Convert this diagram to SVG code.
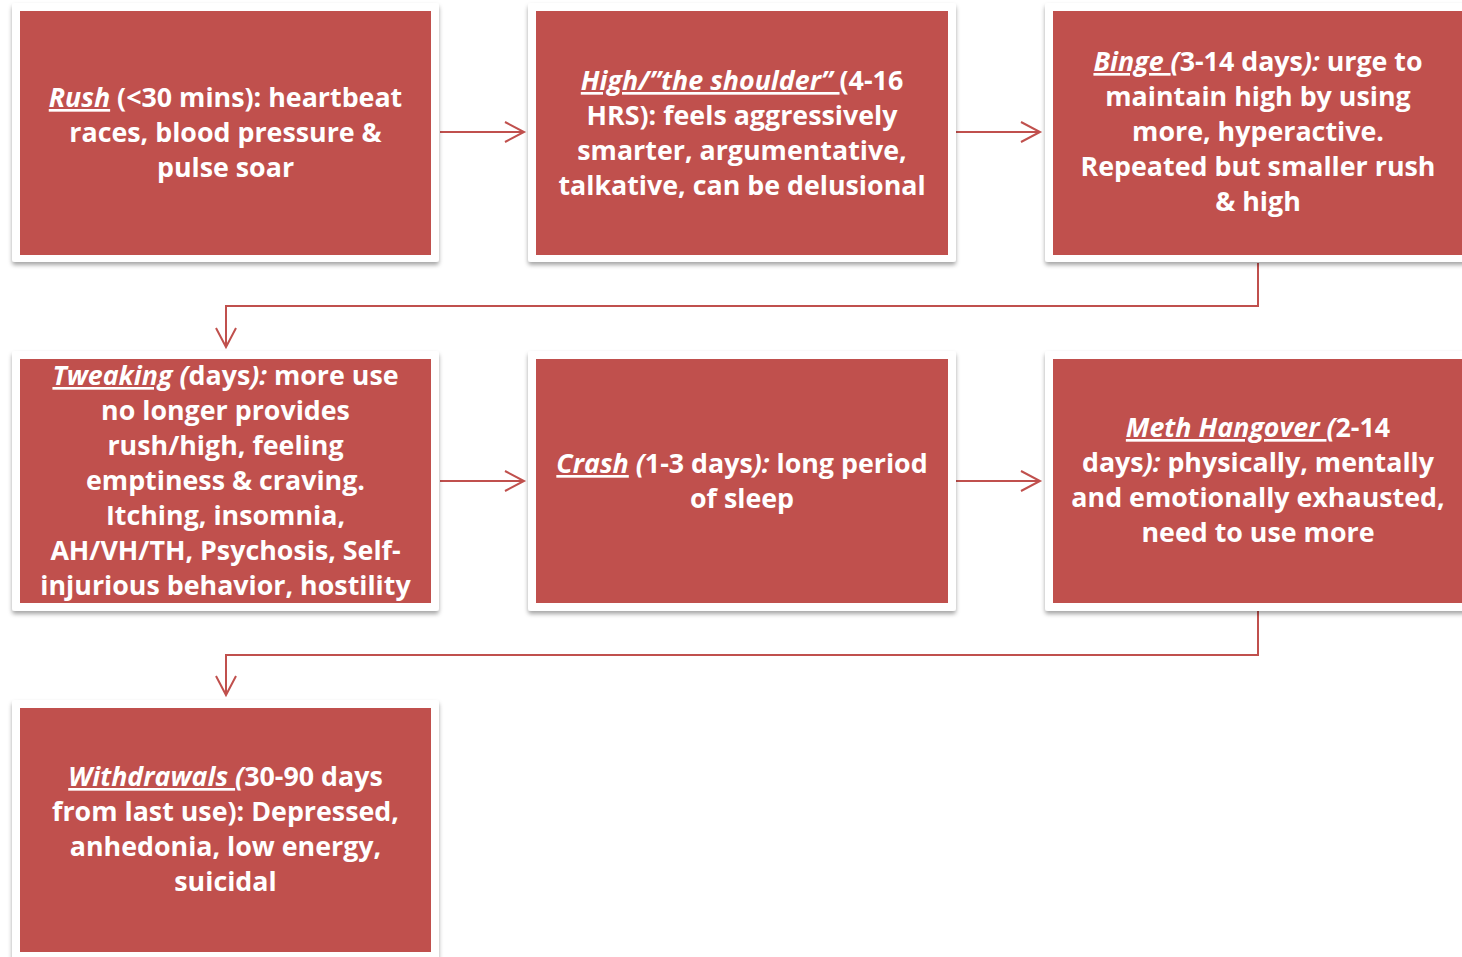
<svg xmlns="http://www.w3.org/2000/svg" width="1462" height="957" viewBox="0 0 1462 957">
<defs>
<filter id="sh" x="-5%" y="-5%" width="110%" height="115%">
<feDropShadow dx="0" dy="3" stdDeviation="2.2" flood-color="#000" flood-opacity="0.35"/>
</filter>
<marker id="ah" markerUnits="userSpaceOnUse" markerWidth="24" markerHeight="24" viewBox="-21 -12 24 24" refX="0" refY="0" orient="auto">
<path d="M-19,-10 L0,0 L-19,10" fill="none" stroke="#C0504D" stroke-width="2"/>
</marker>
</defs>
<style>
.frame{fill:#fff;filter:url(#sh)}
.box{fill:#C0504D}
.t{font-family:"Open Sans","Noto Sans","Liberation Sans",sans-serif;font-weight:700;font-size:26.8px;fill:#fff;text-anchor:middle}
.i{font-style:italic}
.u{font-style:italic;text-decoration:underline}
.c{fill:none;stroke:#C0504D;stroke-width:2}
</style>
<rect width="1462" height="957" fill="#fff"/>
<g id="connectors">
<path class="c" d="M440,132 H524" marker-end="url(#ah)"/>
<path class="c" d="M956,132 H1040" marker-end="url(#ah)"/>
<path class="c" d="M1258,263 V306 H226 V347" marker-end="url(#ah)"/>
<path class="c" d="M440,481 H524" marker-end="url(#ah)"/>
<path class="c" d="M956,481 H1040" marker-end="url(#ah)"/>
<path class="c" d="M1258,611 V655 H226 V695" marker-end="url(#ah)"/>
</g>
<g id="rush">
<rect class="frame" x="12" y="3" width="427" height="259" rx="3"/>
<rect class="box" x="20" y="11" width="411" height="244"/>
<text class="t" x="225.5" y="107"><tspan class="u">Rush</tspan> (&lt;30 mins): heartbeat</text>
<text class="t" x="225.5" y="142">races, blood pressure &amp;</text>
<text class="t" x="225.5" y="177">pulse soar</text>
</g>
<g id="high">
<rect class="frame" x="528" y="3" width="428" height="259" rx="3"/>
<rect class="box" x="536" y="11" width="412" height="244"/>
<text class="t" x="742" y="90"><tspan class="u">High/”the shoulder” </tspan>(4-16</text>
<text class="t" x="742" y="125">HRS): feels aggressively</text>
<text class="t" x="742" y="160">smarter, argumentative,</text>
<text class="t" x="742" y="195">talkative, can be delusional</text>
</g>
<g id="binge">
<rect class="frame" x="1045" y="3" width="430" height="259" rx="3"/>
<rect class="box" x="1053" y="11" width="414" height="244"/>
<text class="t" x="1258" y="71"><tspan class="u">Binge </tspan><tspan class="i">(</tspan>3-14 days<tspan class="i">):</tspan> urge to</text>
<text class="t" x="1258" y="106">maintain high by using</text>
<text class="t" x="1258" y="141">more, hyperactive.</text>
<text class="t" x="1258" y="176">Repeated but smaller rush</text>
<text class="t" x="1258" y="211">&amp; high</text>
</g>
<g id="tweaking">
<rect class="frame" x="12" y="351" width="427" height="260" rx="3"/>
<rect class="box" x="20" y="359" width="411" height="244"/>
<text class="t" x="225.5" y="385"><tspan class="u">Tweaking</tspan><tspan class="i"> (</tspan>days<tspan class="i">):</tspan> more use</text>
<text class="t" x="225.5" y="420">no longer provides</text>
<text class="t" x="225.5" y="455">rush/high, feeling</text>
<text class="t" x="225.5" y="490">emptiness &amp; craving.</text>
<text class="t" x="225.5" y="525">Itching, insomnia,</text>
<text class="t" x="225.5" y="560">AH/VH/TH, Psychosis, Self-</text>
<text class="t" x="225.5" y="595">injurious behavior, hostility</text>
</g>
<g id="crash">
<rect class="frame" x="528" y="351" width="428" height="260" rx="3"/>
<rect class="box" x="536" y="359" width="412" height="244"/>
<text class="t" x="742" y="473"><tspan class="u">Crash</tspan><tspan class="i"> (</tspan>1-3 days<tspan class="i">):</tspan> long period</text>
<text class="t" x="742" y="508">of sleep</text>
</g>
<g id="hangover">
<rect class="frame" x="1045" y="351" width="430" height="260" rx="3"/>
<rect class="box" x="1053" y="359" width="414" height="244"/>
<text class="t" x="1258" y="437"><tspan class="u">Meth Hangover </tspan><tspan class="i">(</tspan>2-14</text>
<text class="t" x="1258" y="472">days<tspan class="i">):</tspan> physically, mentally</text>
<text class="t" x="1258" y="507">and emotionally exhausted,</text>
<text class="t" x="1258" y="542">need to use more</text>
</g>
<g id="withdrawals">
<rect class="frame" x="12" y="700" width="427" height="270" rx="3"/>
<rect class="box" x="20" y="708" width="411" height="244"/>
<text class="t" x="225.5" y="786"><tspan class="u">Withdrawals </tspan><tspan class="i">(</tspan>30-90 days</text>
<text class="t" x="225.5" y="821">from last use): Depressed,</text>
<text class="t" x="225.5" y="856">anhedonia, low energy,</text>
<text class="t" x="225.5" y="891">suicidal</text>
</g>
</svg>
